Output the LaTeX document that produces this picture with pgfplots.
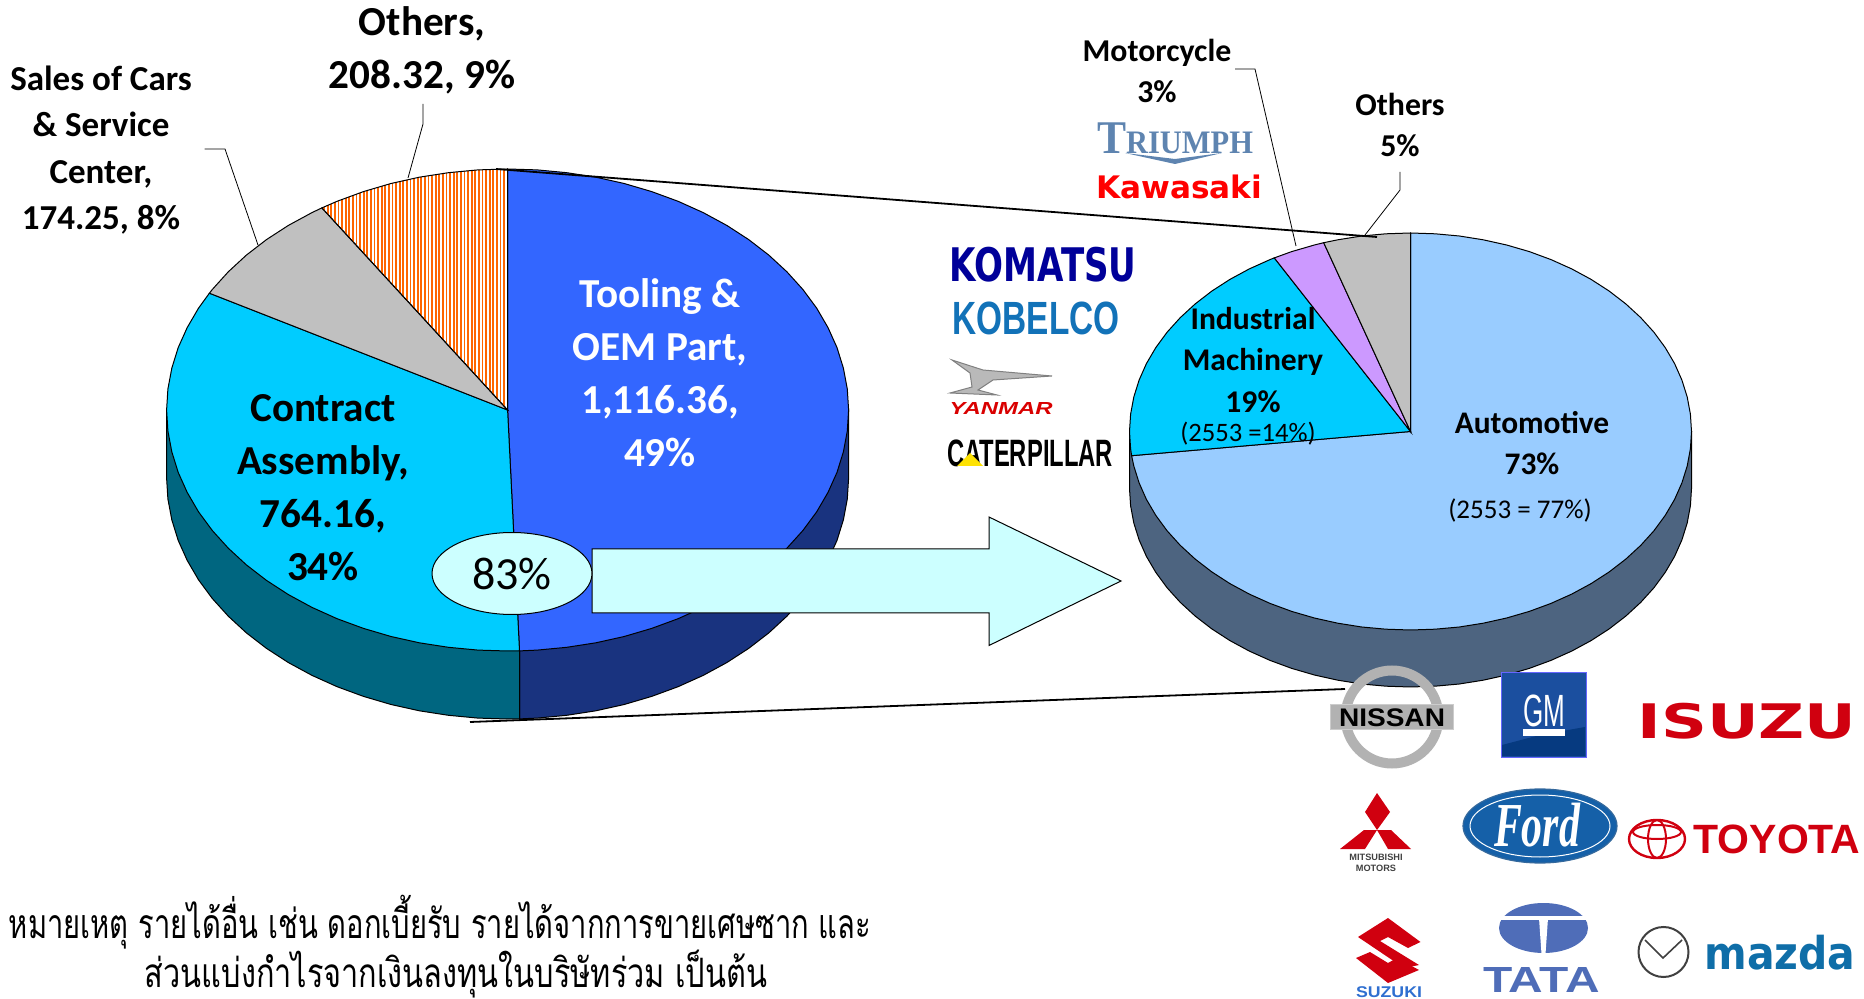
\documentclass[border=0pt]{standalone}
\usepackage{pgfplots}
\usepackage{graphicx}
\usepackage{fontspec}
\pgfplotsset{compat=1.18}
\usetikzlibrary{shapes.geometric,patterns.meta}
\setmainfont{Carlito}
\newfontfamily\thaifont[Script=Thai]{Loma}
\newfontfamily\heavy{DejaVu Sans}
\newfontfamily\arial{Liberation Sans}
\newfontfamily\tms{Liberation Serif}
\definecolor{blueTop}{HTML}{3366FF}
\definecolor{blueSide}{HTML}{19337F}
\definecolor{cyanTop}{HTML}{00CCFF}
\definecolor{cyanSide}{HTML}{006680}
\definecolor{greyTop}{HTML}{C0C0C0}
\definecolor{paleTop}{HTML}{99CCFF}
\definecolor{paleSide}{HTML}{4D6480}
\definecolor{purpleTop}{HTML}{CC99FF}
\definecolor{stripe}{HTML}{FF6600}
\definecolor{arrowFill}{HTML}{CCFFFF}
\definecolor{triumphBlue}{HTML}{5E84B0}
\definecolor{tataBlue}{HTML}{4F6DB8}
\definecolor{fordBlue}{HTML}{1560A8}
\definecolor{kobelcoBlue}{HTML}{1272B8}
\definecolor{suzukiBlue}{HTML}{2F6FD0}
\definecolor{mazdaBlue}{HTML}{0F6EA8}
\definecolor{gmBlue}{HTML}{1B4F9F}
\definecolor{gmDark}{HTML}{063A80}
\definecolor{logoRed}{HTML}{D0000F}
% label: x, y, size, baseline, text
\newcommand{\lab}[5]{\node[align=center,inner sep=0pt,font=\fontsize{#3}{#4}\selectfont] at (axis cs:#1,#2) {#5};}
% logo text squeezed to w x h (pt): x, y, w, h, colour, text
\newcommand{\logo}[6]{\node[inner sep=0pt,text=#5] at (axis cs:#1,#2) {\resizebox*{#3pt}{#4pt}{#6}};}
% ellipse: x, y, width and height in pt, style
\newcommand{\blob}[5]{\node[ellipse,inner sep=0pt,minimum width=#3pt,minimum height=#4pt,#5] at (axis cs:#1,#2) {};}
\begin{document}
\begin{tikzpicture}
\useasboundingbox (0,0) rectangle (932pt,499.5pt);
\begin{axis}[
    at={(0,0)},anchor=south west,
    scale only axis,width=932pt,height=499.5pt,
    xmin=0,xmax=1864,ymin=0,ymax=999,
    y dir=reverse,hide axis,clip=false,
    every axis plot/.append style={line width=0.5pt}
]
% left pie, side walls
\addplot[fill=blueSide,draw=black] coordinates {(848.6,410)(848.6,478)(847.3,499)(843.4,519.8)(837,540.4)(828,560.4)(816.7,579.8)(802.9,598.5)(786.9,616.2)(768.8,632.9)(748.7,648.4)(726.8,662.6)(703.2,675.4)(678.1,686.7)(651.7,696.4)(624.2,704.5)(595.9,710.8)(566.8,715.3)(537.3,718.1)(519.5,718.9)(519.5,410)} -- cycle;
\addplot[fill=cyanSide,draw=black] coordinates {(519.5,410)(519.5,718.9)(507.6,719)(477.9,718.1)(448.4,715.3)(419.3,710.8)(391,704.5)(363.5,696.4)(337.1,686.7)(312,675.4)(288.4,662.6)(266.5,648.4)(246.4,632.9)(228.3,616.2)(212.3,598.5)(198.5,579.8)(187.2,560.4)(178.2,540.4)(171.8,519.8)(167.9,499)(166.6,478)(166.6,410)} -- cycle;
% left pie, top: Tooling & OEM Part 49%
\addplot[fill=blueTop,draw=black] coordinates {(507.6,410)(507.6,169)(537.3,169.9)(566.8,172.7)(595.9,177.2)(624.2,183.5)(651.7,191.6)(678.1,201.3)(703.2,212.6)(726.8,225.4)(748.7,239.6)(768.8,255.1)(786.9,271.8)(802.9,289.5)(816.7,308.2)(828,327.6)(837,347.6)(843.4,368.2)(847.3,389)(848.6,410)(847.3,431)(843.4,451.8)(837,472.4)(828,492.4)(816.7,511.8)(802.9,530.5)(786.9,548.2)(768.8,564.9)(748.7,580.4)(726.8,594.6)(703.2,607.4)(678.1,618.7)(651.7,628.4)(624.2,636.5)(595.9,642.8)(566.8,647.3)(537.3,650.1)(519.5,650.9)} -- cycle;
% Contract Assembly 34%
\addplot[fill=cyanTop,draw=black] coordinates {(507.6,410)(519.5,650.9)(507.6,651)(477.9,650.1)(448.4,647.3)(419.3,642.8)(391,636.5)(363.5,628.4)(337.1,618.7)(312,607.4)(288.4,594.6)(266.5,580.4)(246.4,564.9)(228.3,548.2)(212.3,530.5)(198.5,511.8)(187.2,492.4)(178.2,472.4)(171.8,451.8)(167.9,431)(166.6,410)(167.9,389)(171.8,368.2)(178.2,347.6)(187.2,327.6)(198.5,308.2)(209.4,293.2)} -- cycle;
% Sales of Cars 8%
\addplot[fill=greyTop,draw=black] coordinates {(507.6,410)(209.4,293.2)(212.3,289.5)(228.3,271.8)(246.4,255.1)(266.5,239.6)(288.4,225.4)(312,212.6)(321.9,207.9)} -- cycle;
% Others 9%
\addplot[pattern={Lines[angle=90,distance=1.8pt,line width=0.9pt]},pattern color=stripe,draw=black] coordinates {(507.6,410)(321.9,207.9)(337.1,201.3)(363.5,191.6)(391,183.5)(419.3,177.2)(448.4,172.7)(477.9,169.9)(507.6,169)} -- cycle;

% right pie, side wall
\addplot[fill=paleSide,draw=black] coordinates {(1691.5,431.5)(1691.5,488.5)(1690.4,505.8)(1687.2,523)(1681.9,539.9)(1674.6,556.4)(1665.2,572.4)(1653.9,587.8)(1640.7,602.4)(1625.8,616.1)(1609.2,628.9)(1591.1,640.6)(1571.7,651.1)(1551,660.4)(1529.3,668.4)(1506.6,675)(1483.2,680.2)(1459.3,684)(1435,686.2)(1410.5,687)(1386,686.2)(1361.7,684)(1337.8,680.2)(1314.4,675)(1291.7,668.4)(1270,660.4)(1249.3,651.1)(1229.9,640.6)(1211.8,628.9)(1195.2,616.1)(1180.3,602.4)(1167.1,587.8)(1155.8,572.4)(1146.4,556.4)(1139.1,539.9)(1133.8,523)(1130.6,505.8)(1129.5,488.5)(1129.5,431.5)} -- cycle;
% Automotive 73%
\addplot[fill=paleTop,draw=black] coordinates {(1410.5,431.5)(1410.5,233)(1435,233.8)(1459.3,236)(1483.2,239.8)(1506.6,245)(1529.3,251.6)(1551,259.6)(1571.7,268.9)(1591.1,279.4)(1609.2,291.1)(1625.8,303.9)(1640.7,317.6)(1653.9,332.2)(1665.2,347.6)(1674.6,363.6)(1681.9,380.1)(1687.2,397)(1690.4,414.2)(1691.5,431.5)(1690.4,448.8)(1687.2,466)(1681.9,482.9)(1674.6,499.4)(1665.2,515.4)(1653.9,530.8)(1640.7,545.4)(1625.8,559.1)(1609.2,571.9)(1591.1,583.6)(1571.7,594.1)(1551,603.4)(1529.3,611.4)(1506.6,618)(1483.2,623.2)(1459.3,627)(1435,629.2)(1410.5,630)(1386,629.2)(1361.7,627)(1337.8,623.2)(1314.4,618)(1291.7,611.4)(1270,603.4)(1249.3,594.1)(1229.9,583.6)(1211.8,571.9)(1195.2,559.1)(1180.3,545.4)(1167.1,530.8)(1155.8,515.4)(1146.4,499.4)(1139.1,482.9)(1133.8,466)(1131.6,455.7)} -- cycle;
% Industrial Machinery 19%
\addplot[fill=cyanTop,draw=black] coordinates {(1410.5,431.5)(1131.6,455.7)(1130.6,448.8)(1129.5,431.5)(1130.6,414.2)(1133.8,397)(1139.1,380.1)(1146.4,363.6)(1155.8,347.6)(1167.1,332.2)(1180.3,317.6)(1195.2,303.9)(1211.8,291.1)(1229.9,279.4)(1249.3,268.9)(1270,259.6)(1274.3,257.9)} -- cycle;
% Motorcycle 3%
\addplot[fill=purpleTop,draw=black] coordinates {(1410.5,431.5)(1274.3,257.9)(1291.7,251.6)(1314.4,245)(1323.7,242.7)} -- cycle;
% Others 5%
\addplot[fill=greyTop,draw=black] coordinates {(1410.5,431.5)(1323.7,242.7)(1337.8,239.8)(1361.7,236)(1386,233.8)(1410.5,233)} -- cycle;

% zoom lines and leader lines
\addplot[black,line width=0.9pt] coordinates {(496,169)(1377,237)};
\addplot[black,line width=0.9pt] coordinates {(470,722)(1345,689)};
\addplot[black,line width=0.4pt] coordinates {(423,104)(423,124)(408,178)};
\addplot[black,line width=0.4pt] coordinates {(204.5,149)(225,149)(258,245)};
\addplot[black,line width=0.4pt] coordinates {(1235,69)(1255,69)(1296,246)};
\addplot[black,line width=0.4pt] coordinates {(1400,172)(1400,190)(1365,235)};

% arrow and 83% bubble
\addplot[fill=arrowFill,draw=black] coordinates {(592,549)(989,549)(989,517)(1121,581)(989,645.5)(989,613)(592,613)} -- cycle;
\node[ellipse,draw=black,fill=arrowFill,line width=0.5pt,inner sep=0pt,minimum width=80pt,minimum height=41pt,font=\fontsize{23}{25}\selectfont] at (axis cs:512,573.5) {83\%};

% slice labels
\lab{660}{373}{20.6}{26.5}{\bfseries\color{white}Tooling \&\\\bfseries\color{white}OEM Part,\\\bfseries\color{white}1,116.36,\\\bfseries\color{white}49\%}
\lab{323}{488}{20.6}{26.5}{\bfseries Contract\\\bfseries Assembly,\\\bfseries 764.16,\\\bfseries 34\%}
\lab{422}{50}{20.6}{26.5}{\bfseries Others,\\\bfseries 208.32, 9\%}
\lab{101}{150}{17.5}{23.2}{\bfseries Sales of Cars\\\bfseries \& Service\\\bfseries Center,\\\bfseries 174.25, 8\%}
\lab{1157}{71}{15.9}{20.8}{\bfseries Motorcycle\\\bfseries 3\%}
\lab{1400}{125}{15.9}{20.8}{\bfseries Others\\\bfseries 5\%}
\lab{1253}{360}{15.8}{20.8}{\bfseries Industrial\\\bfseries Machinery\\\bfseries 19\%}
\lab{1248}{434}{13.3}{14}{(2553 =14\%)}
\lab{1532}{443}{15.7}{20.8}{\bfseries Automotive\\\bfseries 73\%}
\lab{1520}{511}{13.5}{14}{(2553 = 77\%)}

% note in Thai
\logo{440}{922}{431}{27}{black}{\thaifont หมายเหตุ รายได้อื่น เช่น ดอกเบี้ยรับ รายได้จากการขายเศษซาก และ}
\logo{456}{974}{311}{24}{black}{\thaifont ส่วนแบ่งกำไรจากเงินลงทุนในบริษัทร่วม เป็นต้น}

% logos, motorcycle
\logo{1175}{138}{78}{15.5}{triumphBlue}{\tms\bfseries T\scriptsize RIUMPH}
\addplot[fill=triumphBlue,draw=none] coordinates {(1125,153)(1175,164)(1222,153)(1175,159)} -- cycle;
\logo{1179}{187}{83}{12}{red}{\heavy\bfseries Kawasaki}
% logos, machinery
\logo{1043}{265}{93.5}{17.5}{blue!60!black}{\heavy\bfseries KOMATSU}
\logo{1036}{318}{83.5}{16.5}{kobelcoBlue}{\arial\bfseries KOBELCO}
\addplot[fill=gray!55,draw=gray] coordinates {(952,360)(983,370)(1052,376)(993,380)(978,390)(997,395)(950,393)(972,387)(970,373)} -- cycle;
\logo{1001}{409}{51.5}{6}{red!85!black}{\arial\bfseries\itshape YANMAR}
\logo{1030}{453}{83}{13.5}{black}{\arial\bfseries CATERPILLAR}
\addplot[fill=yellow!85!orange,draw=none] coordinates {(957,466)(970,453)(983,466)} -- cycle;
% logos, automotive
\blob{1392}{717}{46.5}{46.5}{draw=gray!60,line width=5pt}
\addplot[fill=gray!60,draw=gray!40] coordinates {(1330,705)(1453,705)(1453,730)(1330,730)} -- cycle;
\logo{1392}{718}{53}{9}{black}{\arial\bfseries NISSAN}
\addplot[fill=gmBlue,draw=blue!60] coordinates {(1501,673)(1586,673)(1586,757)(1501,757)} -- cycle;
\addplot[fill=gmDark,draw=none] coordinates {(1502,756)(1502,745)(1540,735)(1585,727)(1585,756)} -- cycle;
\logo{1544}{711}{21}{16}{white}{\arial GM}
\addplot[fill=white,draw=none] coordinates {(1523,729)(1565,729)(1565,736)(1523,736)} -- cycle;
\logo{1747}{721}{109.5}{18}{logoRed}{\heavy\bfseries ISUZU}
\addplot[fill=logoRed,draw=none] coordinates {(1377,793)(1390,812)(1377,830)(1365,812)} -- cycle;
\addplot[fill=logoRed,draw=none] coordinates {(1364,830)(1377,830)(1365,849)(1340,849)} -- cycle;
\addplot[fill=logoRed,draw=none] coordinates {(1377,830)(1391,830)(1411,849)(1388,849)} -- cycle;
\node[inner sep=0pt,align=center,font=\arial\bfseries\fontsize{4.6}{5.5}\selectfont,text=black!75] at (axis cs:1376,863) {MITSUBISHI\\MOTORS};
\blob{1540}{826}{77}{37}{fill=fordBlue,draw=fordBlue!70!gray,line width=0.6pt}
\blob{1540}{826}{70}{31}{draw=white,line width=0.5pt}
\logo{1537}{825}{43}{22}{white}{\tms\itshape\bfseries Ford}
\blob{1657}{839}{28}{19}{draw=logoRed,line width=1.2pt}
\blob{1657}{839}{9}{19}{draw=logoRed,line width=1pt}
\blob{1657}{832}{24}{7}{draw=logoRed,line width=1pt}
\logo{1777}{839.5}{83.5}{14.5}{logoRed}{\arial\bfseries TOYOTA}
\addplot[fill=logoRed,draw=none] coordinates {(1388,918)(1420.5,942)(1408,948)(1388,937)(1380,941)(1419,965)(1404,968)(1358,937)} -- cycle;
\addplot[fill=logoRed,draw=none] coordinates {(1356,958)(1370,952)(1388,963)(1397,958)(1419,970)(1388,983)} -- cycle;
\logo{1389}{992.5}{33}{5.5}{suzukiBlue}{\arial\bfseries SUZUKI}
\blob{1543.5}{928}{44.5}{25}{fill=tataBlue}
\addplot[fill=white,draw=none] coordinates {(1499,916)(1588,916)(1588,920)(1499,920)} -- cycle;
\addplot[fill=white,draw=none] coordinates {(1539,918)(1548,918)(1545.5,954)(1541.5,954)} -- cycle;
\logo{1541.5}{979.5}{58.5}{12.5}{tataBlue}{\arial\bfseries TATA}
\blob{1663.5}{952}{25}{25}{draw=black!75,line width=1pt}
\addplot[black!75,line width=0.8pt] coordinates {(1645,940)(1663,958)(1682,940)};
\logo{1780}{952.5}{75.5}{17.5}{mazdaBlue}{\heavy\bfseries mazda}
\end{axis}
\end{tikzpicture}
\end{document}
